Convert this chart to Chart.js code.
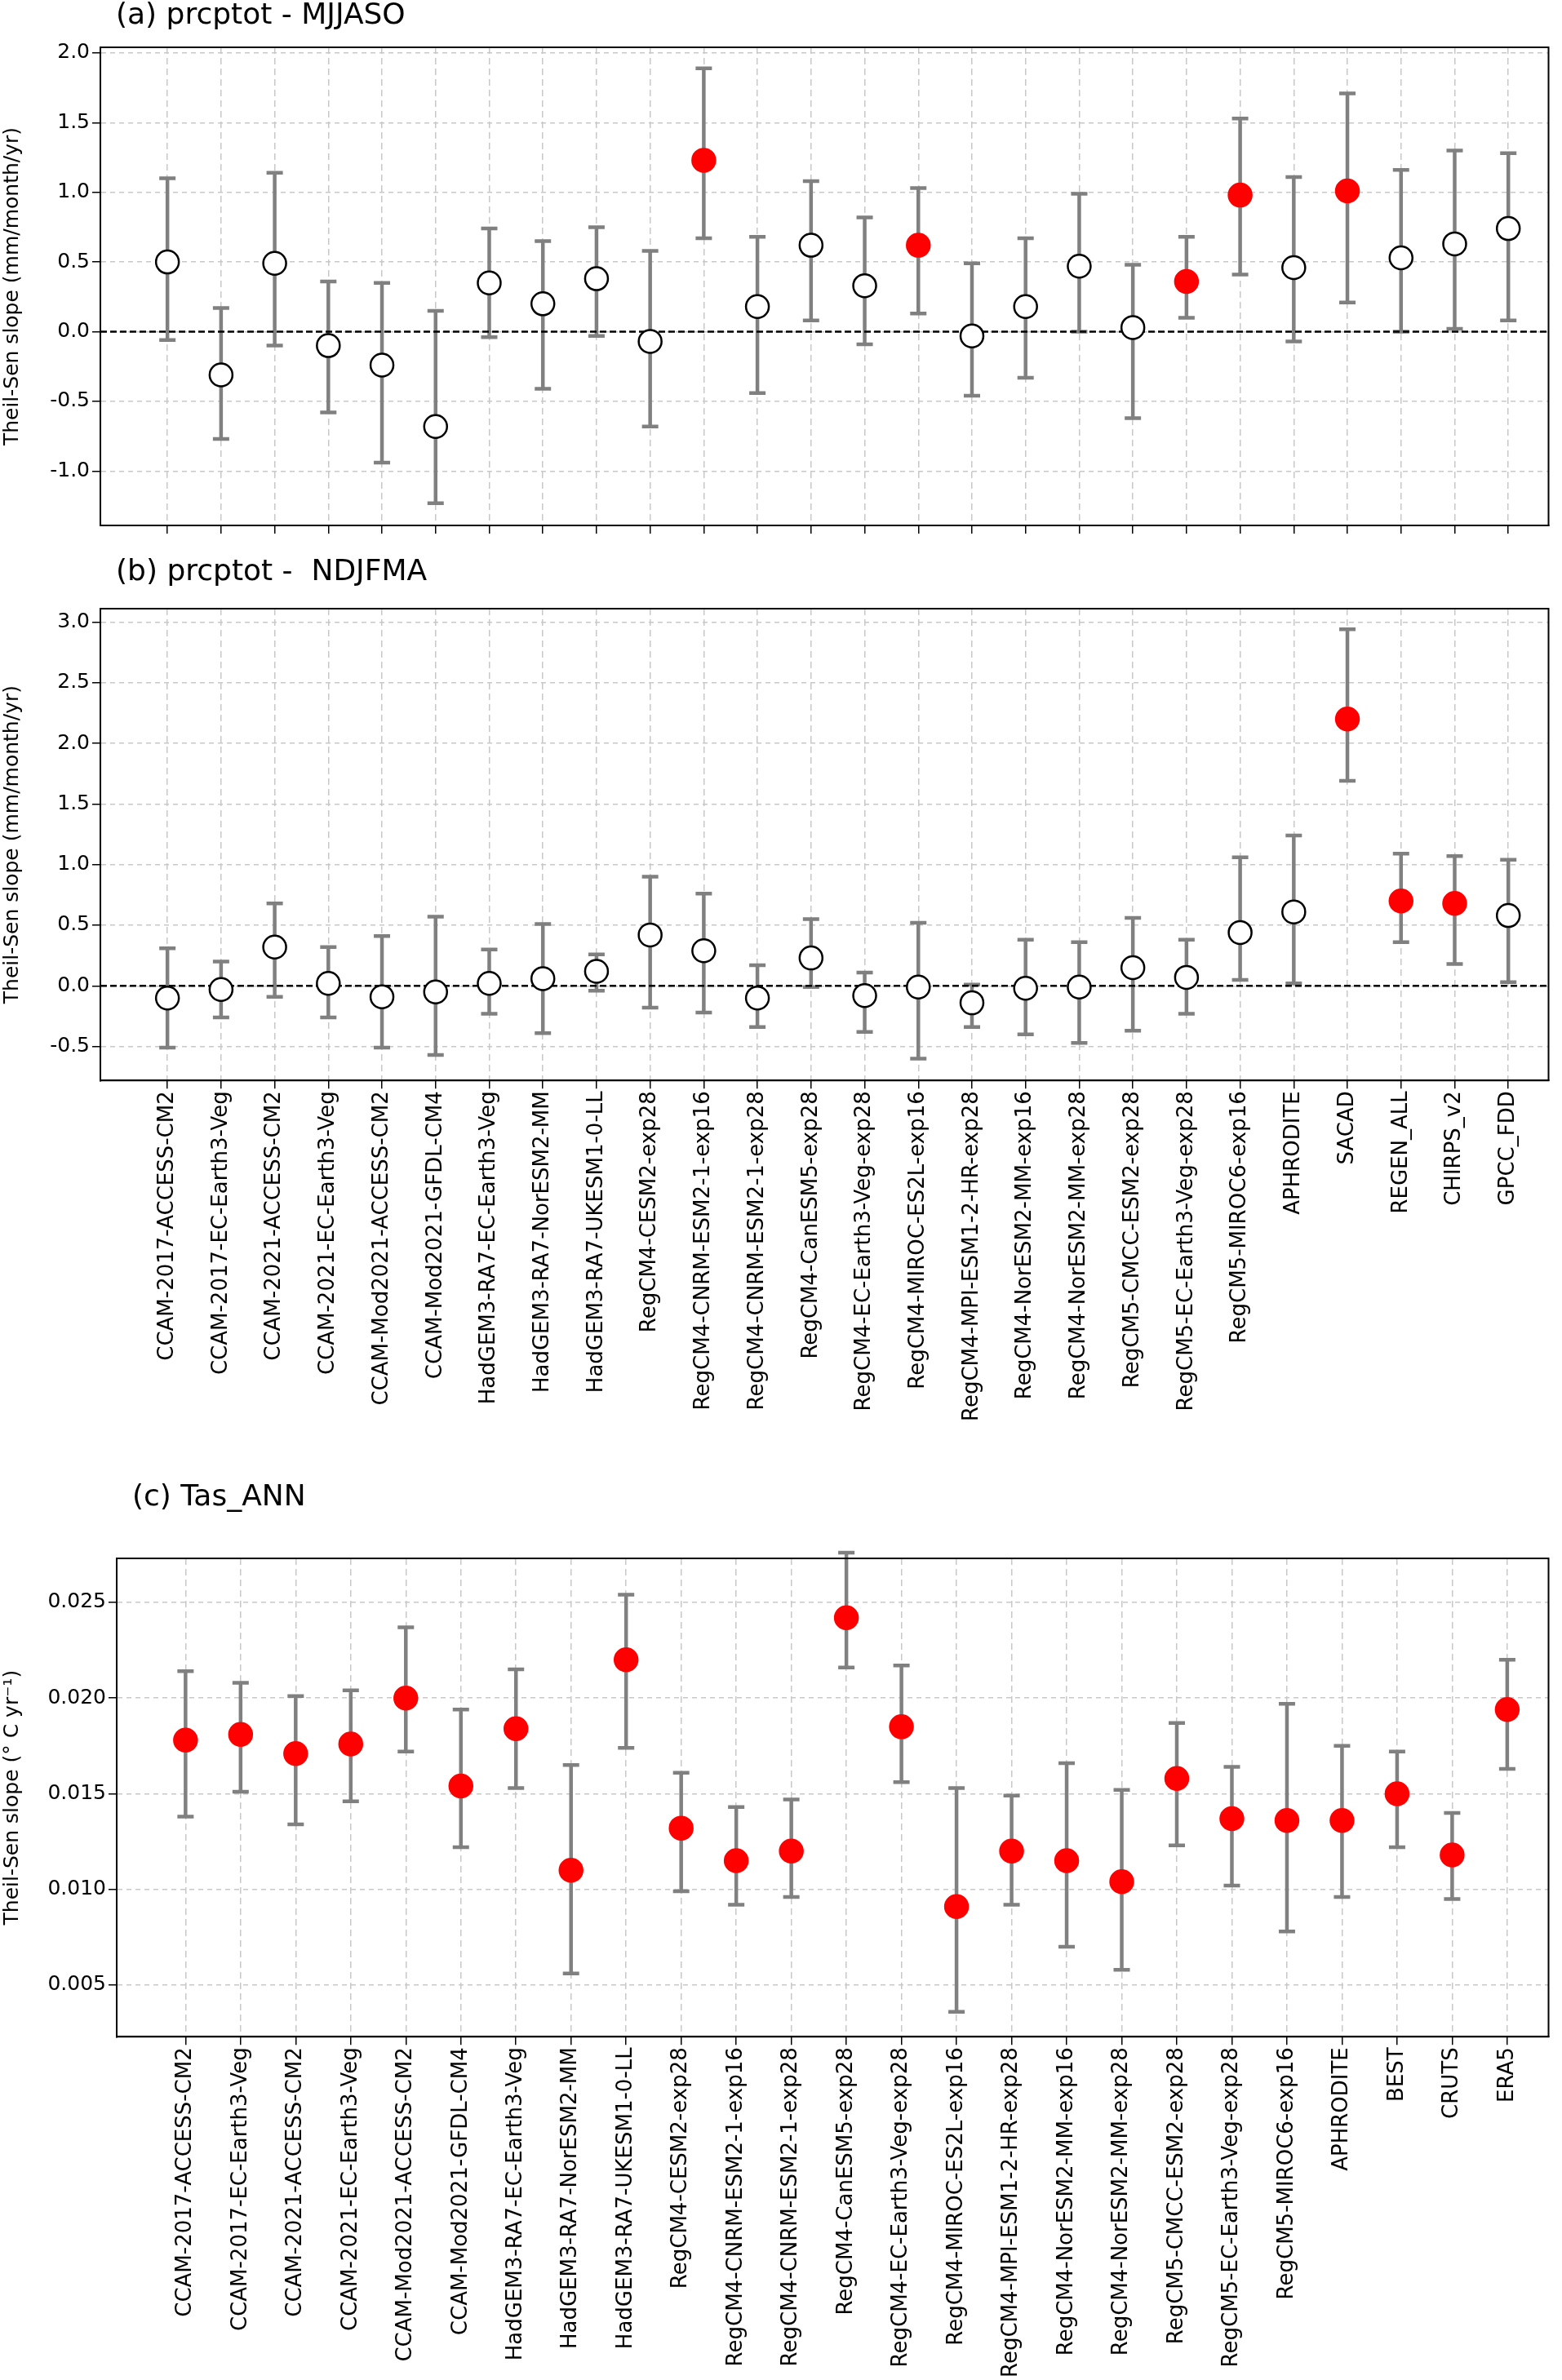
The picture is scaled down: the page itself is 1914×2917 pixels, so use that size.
<!DOCTYPE html>
<html><head><meta charset="utf-8">
<script src="https://cdn.jsdelivr.net/npm/chart.js@4"></script>
<style>body{margin:0;background:#fff;width:1914px;height:2917px;position:relative;font-family:"DejaVu Sans"}
.c{position:absolute;left:0;width:1914px}
.t{position:absolute;font-family:"DejaVu Sans";font-size:36px;color:#000;white-space:pre}</style></head><body>
<div class="c" style="top:0;height:662px"><canvas id="ca"></canvas></div>
<div class="c" style="top:700px;height:1045px"><canvas id="cb"></canvas></div>
<div class="c" style="top:1800px;height:1117px"><canvas id="cc"></canvas></div>
<div class="t" style="left:142px;top:-4px">(a) prcptot - MJJASO</div>
<div class="t" style="left:142px;top:678px">(b) prcptot -  NDJFMA</div>
<div class="t" style="left:162px;top:1812px">(c) Tas_ANN</div>
<script>
const models=["CCAM-2017-ACCESS-CM2","CCAM-2017-EC-Earth3-Veg","CCAM-2021-ACCESS-CM2","CCAM-2021-EC-Earth3-Veg","CCAM-Mod2021-ACCESS-CM2","CCAM-Mod2021-GFDL-CM4","HadGEM3-RA7-EC-Earth3-Veg","HadGEM3-RA7-NorESM2-MM","HadGEM3-RA7-UKESM1-0-LL","RegCM4-CESM2-exp28","RegCM4-CNRM-ESM2-1-exp16","RegCM4-CNRM-ESM2-1-exp28","RegCM4-CanESM5-exp28","RegCM4-EC-Earth3-Veg-exp28","RegCM4-MIROC-ES2L-exp16","RegCM4-MPI-ESM1-2-HR-exp28","RegCM4-NorESM2-MM-exp16","RegCM4-NorESM2-MM-exp28","RegCM5-CMCC-ESM2-exp28","RegCM5-EC-Earth3-Veg-exp28","RegCM5-MIROC6-exp16"];
const catsPr=models.concat(["APHRODITE","SACAD","REGEN_ALL","CHIRPS_v2","GPCC_FDD"]);
const catsTas=models.concat(["APHRODITE","BEST","CRUTS","ERA5"]);
const aVal=[0.50,-0.31,0.49,-0.10,-0.24,-0.68,0.35,0.20,0.38,-0.07,1.23,0.18,0.62,0.33,0.62,-0.03,0.18,0.47,0.03,0.36,0.98,0.46,1.01,0.53,0.63,0.74];
const aLo=[-0.06,-0.77,-0.10,-0.58,-0.94,-1.23,-0.04,-0.41,-0.03,-0.68,0.67,-0.44,0.08,-0.09,0.13,-0.46,-0.33,0.00,-0.62,0.10,0.41,-0.07,0.21,0.00,0.02,0.08];
const aHi=[1.10,0.17,1.14,0.36,0.35,0.15,0.74,0.65,0.75,0.58,1.89,0.68,1.08,0.82,1.03,0.49,0.67,0.99,0.48,0.68,1.53,1.11,1.71,1.16,1.30,1.28];
const aSig=[0,0,0,0,0,0,0,0,0,0,1,0,0,0,1,0,0,0,0,1,1,0,1,0,0,0];
const bVal=[-0.10,-0.03,0.32,0.02,-0.09,-0.05,0.02,0.06,0.12,0.42,0.29,-0.10,0.23,-0.08,-0.01,-0.14,-0.02,-0.01,0.15,0.07,0.44,0.61,2.20,0.70,0.68,0.58];
const bLo=[-0.51,-0.26,-0.09,-0.26,-0.51,-0.57,-0.23,-0.39,-0.04,-0.18,-0.22,-0.34,-0.01,-0.38,-0.60,-0.34,-0.40,-0.47,-0.37,-0.23,0.05,0.02,1.69,0.36,0.18,0.03];
const bHi=[0.31,0.20,0.68,0.32,0.41,0.57,0.30,0.51,0.26,0.90,0.76,0.17,0.55,0.11,0.52,0.01,0.38,0.36,0.56,0.38,1.06,1.24,2.94,1.09,1.07,1.04];
const bSig=[0,0,0,0,0,0,0,0,0,0,0,0,0,0,0,0,0,0,0,0,0,0,1,1,1,0];
const cVal=[0.0178,0.0181,0.0171,0.0176,0.0200,0.0154,0.0184,0.0110,0.0220,0.0132,0.0115,0.0120,0.0242,0.0185,0.0091,0.0120,0.0115,0.0104,0.0158,0.0137,0.0136,0.0136,0.0150,0.0118,0.0194];
const cLo=[0.0138,0.0151,0.0134,0.0146,0.0172,0.0122,0.0153,0.0056,0.0174,0.0099,0.0092,0.0096,0.0216,0.0156,0.0036,0.0092,0.0070,0.0058,0.0123,0.0102,0.0078,0.0096,0.0122,0.0095,0.0163];
const cHi=[0.0214,0.0208,0.0201,0.0204,0.0237,0.0194,0.0215,0.0165,0.0254,0.0161,0.0143,0.0147,0.0276,0.0217,0.0153,0.0149,0.0166,0.0152,0.0187,0.0164,0.0197,0.0175,0.0172,0.0140,0.0220];
const cSig=cVal.map(()=>1);

const errPlugin={id:'err',beforeDatasetsDraw(ch,a,o){const x=ch.scales.x,y=ch.scales.y,c=ch.ctx;const d=o.d;
 c.save();c.strokeStyle='#808080';c.lineWidth=4.5;
 d.cats.forEach((k,i)=>{const px=x.getPixelForValue(i);const y1=y.getPixelForValue(d.lo[i]),y2=y.getPixelForValue(d.hi[i]);
 c.beginPath();c.moveTo(px,y1);c.lineTo(px,y2);c.moveTo(px-10,y1);c.lineTo(px+10,y1);c.moveTo(px-10,y2);c.lineTo(px+10,y2);c.stroke();});
 if(d.zero){const py=y.getPixelForValue(0);c.strokeStyle='#000';c.lineWidth=2.5;c.setLineDash([8,4]);c.beginPath();c.moveTo(ch.chartArea.left,py);c.lineTo(ch.chartArea.right,py);c.stroke();}
 c.restore();},
 afterDraw(ch){const a=ch.chartArea,c=ch.ctx;c.save();c.strokeStyle='#000';c.lineWidth=2;c.strokeRect(a.left,a.top,a.right-a.left,a.bottom-a.top);c.restore();}};

function make(id,cats,val,lo,hi,sig,opt){
 const pts=val.map((v,i)=>({x:i,y:v}));
 new Chart(document.getElementById(id),{type:'scatter',plugins:[errPlugin],
 data:{datasets:[{data:pts,pointRadius:14,pointHoverRadius:14,borderWidth:2.5,
   backgroundColor:sig.map(s=>s?'#ff0000':'#ffffff'),borderColor:sig.map(s=>s?'#ff0000':'#000000')}]},
 options:{responsive:true,maintainAspectRatio:false,animation:false,
  layout:{padding:{left:0,right:4,top:opt.top,bottom:0}},
  plugins:{legend:{display:false},tooltip:{enabled:false},err:{d:{cats,lo,hi,zero:opt.zero}}},
  scales:{
   x:{type:'linear',min:-1.25,max:cats.length-0.25,afterBuildTicks(s){s.ticks=cats.map((c,i)=>({value:i}));},
    ticks:{display:opt.xlab,autoSkip:false,maxRotation:90,minRotation:90,color:'#000',font:{size:26,family:'DejaVu Sans'},callback:(v)=>cats[v]},
    grid:{color:'#c8c8c8',lineWidth:1.5,tickColor:'#000',tickLength:10,drawTicks:true},border:{display:true,color:'#000',width:2,dash:[8,5]}},
   y:{min:opt.ymin,max:opt.ymax,afterFit(s){s.width=opt.yw;},
    afterBuildTicks(s){s.ticks=opt.yt.map(v=>({value:v}));},
    ticks:{color:'#000',font:{size:25,family:'DejaVu Sans'},callback:opt.fmt},
    title:{display:true,text:opt.ytitle,color:'#000',padding:{top:0,bottom:2},font:{size:25,family:'DejaVu Sans'}},
    grid:{color:'#c8c8c8',lineWidth:1.5,tickColor:'#000',tickLength:10},border:{display:true,color:'#000',width:2,dash:[6,5]}}
  }}});
}
make('ca',catsPr,aVal,aLo,aHi,aSig,{top:58,zero:true,xlab:false,ymin:-1.39,ymax:2.04,yt:[-1,-0.5,0,0.5,1,1.5,2],fmt:v=>v.toFixed(1),ytitle:'Theil-Sen slope (mm/month/yr)',yw:123});
make('cb',catsPr,bVal,bLo,bHi,bSig,{top:46,zero:true,xlab:true,ymin:-0.78,ymax:3.11,yt:[-0.5,0,0.5,1,1.5,2,2.5,3],fmt:v=>v.toFixed(1),ytitle:'Theil-Sen slope (mm/month/yr)',yw:123});
make('cc',catsTas,cVal,cLo,cHi,cSig,{top:110,zero:false,xlab:true,ymin:0.0023,ymax:0.0273,yt:[0.005,0.01,0.015,0.02,0.025],fmt:v=>v.toFixed(3),ytitle:'Theil-Sen slope (° C yr⁻¹)',yw:143});
</script>
</body></html>
